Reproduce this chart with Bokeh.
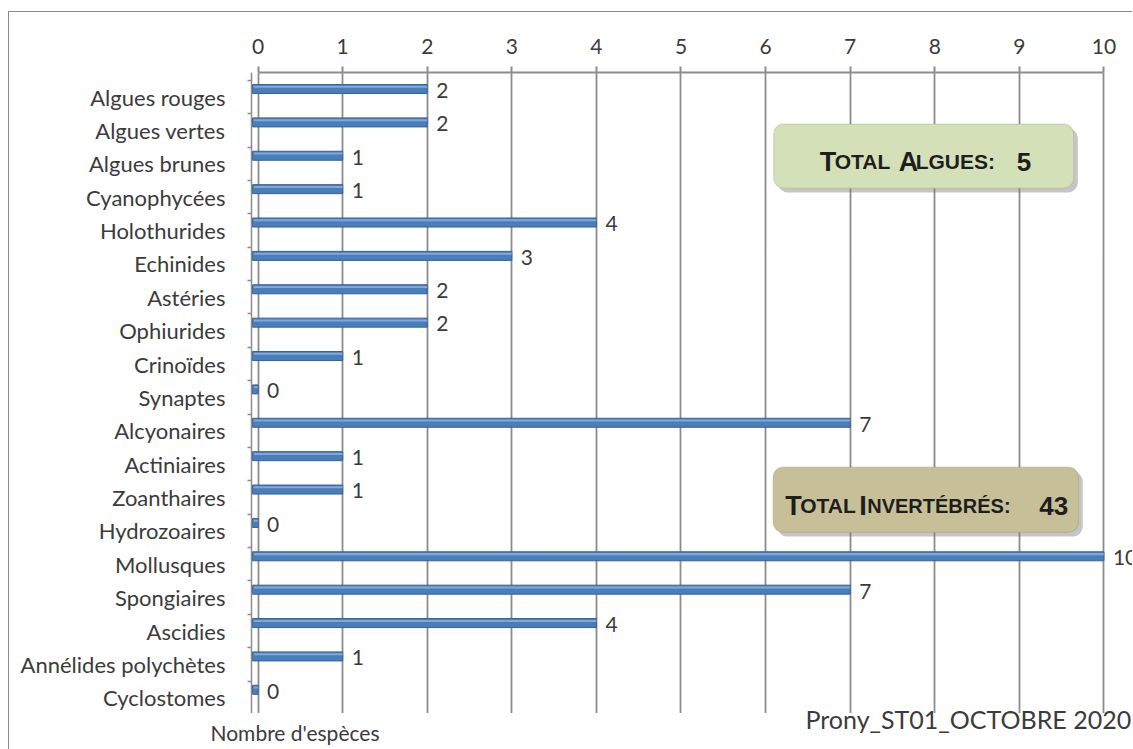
from bokeh.plotting import figure
from bokeh.models import Range1d, FixedTicker, Label, BoxAnnotation, ColumnDataSource
from bokeh.core.properties import value
from bokeh.embed import file_html
from bokeh.resources import INLINE

categories = ["Algues rouges", "Algues vertes", "Algues brunes", "Cyanophycées",
              "Holothurides", "Echinides", "Astéries", "Ophiurides", "Crinoïdes",
              "Synaptes", "Alcyonaires", "Actiniaires", "Zoanthaires", "Hydrozoaires",
              "Mollusques", "Spongiaires", "Ascidies", "Annélides polychètes", "Cyclostomes"]
counts = [2, 2, 1, 1, 4, 3, 2, 2, 1, 0, 7, 1, 1, 0, 10, 7, 4, 1, 0]
x_ticks = [0, 1, 2, 3, 4, 5, 6, 7, 8, 9, 10]
x_label = "Nombre d'espèces"
station_label = "Prony_ST01_OCTOBRE 2020"
algues_parts = ["T", "OTAL", "A", "LGUES:", "5"]
invert_parts = ["T", "OTAL", "I", "NVERTÉBRÉS:", "43"]

FONT = "Lato"
TXT = "#3b3b3b"
GRID = "#8c8c8c"
BORDER = "1px solid #8a8a8a"

n = len(categories)
idx = list(range(n))
BAR_SHIFT = -0.24
LBL_SHIFT = -0.2

src = ColumnDataSource(dict(
    y=[i + BAR_SHIFT for i in idx],
    yh=[i + BAR_SHIFT - 0.065 for i in idx],
    ylab=[i + LBL_SHIFT for i in idx],
    right=counts,
    lab=[str(c) for c in counts],
))

p = figure(width=1124, height=702,
           x_range=Range1d(-0.078, 10.35), y_range=Range1d(18.5, -0.735),
           x_axis_location="above", output_backend="svg", toolbar_location=None,
           min_border_left=242, min_border_top=60, min_border_right=0, min_border_bottom=0,
           margin=(11, 0, 0, 8), styles={"border-top": BORDER, "border-left": BORDER})
p.outline_line_color = None
p.background_fill_color = "white"
p.border_fill_color = "white"

# top axis
xt = FixedTicker(ticks=x_ticks)
ax = p.xaxis[0]
ax.ticker = xt
ax.bounds = (0, 10)
ax.axis_line_color = GRID
ax.axis_line_width = 2
ax.major_tick_line_color = GRID
ax.major_tick_line_width = 2
ax.major_tick_out = 6
ax.major_tick_in = 0
ax.minor_tick_line_color = None
ax.major_label_standoff = 13
ax.major_label_text_font = FONT
ax.major_label_text_font_size = "21px"
ax.major_label_text_color = TXT

# left axis (categories)
ay = p.yaxis[0]
ay.ticker = FixedTicker(ticks=idx, minor_ticks=[i - 0.5 for i in range(n + 1)])
ay.major_label_overrides = {i: c for i, c in zip(idx, categories)}
ay.axis_line_color = GRID
ay.axis_line_width = 1.5
ay.major_tick_line_color = None
ay.major_tick_out = 0
ay.major_tick_in = 0
ay.minor_tick_line_color = GRID
ay.minor_tick_line_width = 1.5
ay.minor_tick_out = 4
ay.minor_tick_in = 0
ay.major_label_standoff = 22
ay.major_label_text_font = FONT
ay.major_label_text_font_size = "22px"
ay.major_label_text_color = TXT

p.xgrid.ticker = xt
p.xgrid.grid_line_color = GRID
p.xgrid.grid_line_width = 1.8
p.ygrid.visible = False

# bars
p.hbar(y="y", left=-0.066, right="right", height=0.27, source=src,
       fill_color="#4a7ebb", line_color="#36609a", line_width=1)
p.hbar(y="yh", left=-0.05, right="right", height=0.06, source=src,
       fill_color="#a9c4e8", fill_alpha=0.6, line_color=None)
p.text(x="right", y="ylab", text="lab", source=src, x_offset=9,
       text_align="left", text_baseline="middle",
       text_font=value(FONT), text_font_size="21px", text_color=TXT)

# total boxes
def total_box(left, right, top, bottom, color, edge):
    p.add_layout(BoxAnnotation(left=left + 0.05, right=right + 0.05, top=top + 0.13, bottom=bottom + 0.13,
                               fill_color="#7f7f7f", fill_alpha=0.45, line_color=None,
                               border_radius=10))
    p.add_layout(BoxAnnotation(left=left, right=right, top=top, bottom=bottom,
                               fill_color=color, fill_alpha=1, line_color=edge, line_width=1.2,
                               border_radius=10))

def caps_text(x0, y0, parts, offsets, sizes):
    for t, off, s in zip(parts, offsets, sizes):
        p.add_layout(Label(x=x0, y=y0, x_offset=off, text=t, text_font="Liberation Sans",
                           text_font_style="bold", text_font_size=s, text_color="#1e1e1e",
                           text_baseline="alphabetic", text_align="left"))

total_box(6.096, 9.642, 0.81, 2.73, "#d4e0b8", "#9aa37f")
caps_text(6.096, 1.94, algues_parts, [46, 61, 125, 142, 243],
          ["27px", "21px", "27px", "21px", "26px"])

total_box(6.09, 9.70, 11.09, 13.04, "#c6bf98", "#8f8a6a")
caps_text(6.09, 12.24, invert_parts, [12, 27, 86, 94, 266],
          ["27px", "21px", "27px", "20px", "26px"])

# footer strip (separate root; pulled up and transparent so it overlaps the plot bottom)
p2 = figure(width=1124, height=52, x_range=Range1d(0, 1124), y_range=Range1d(52, 0),
            x_axis_location=None, y_axis_location=None,
            output_backend="svg", toolbar_location=None,
            min_border_left=0, min_border_right=0, min_border_top=0, min_border_bottom=0,
            margin=(-16, 0, 0, 8), styles={"border-left": BORDER})
p2.grid.visible = False
p2.outline_line_color = None
p2.background_fill_alpha = 0
p2.border_fill_alpha = 0
p2.text(x=[201], y=[34.5], text=[x_label],
        text_align="left", text_baseline="alphabetic",
        text_font=value(FONT), text_font_size="21px", text_color=TXT)
p2.text(x=[796], y=[21], text=[station_label],
        text_align="left", text_baseline="alphabetic",
        text_font=value(FONT), text_font_size="25px", text_color=TXT)

open("out.html", "w").write(file_html([p, p2], INLINE))
